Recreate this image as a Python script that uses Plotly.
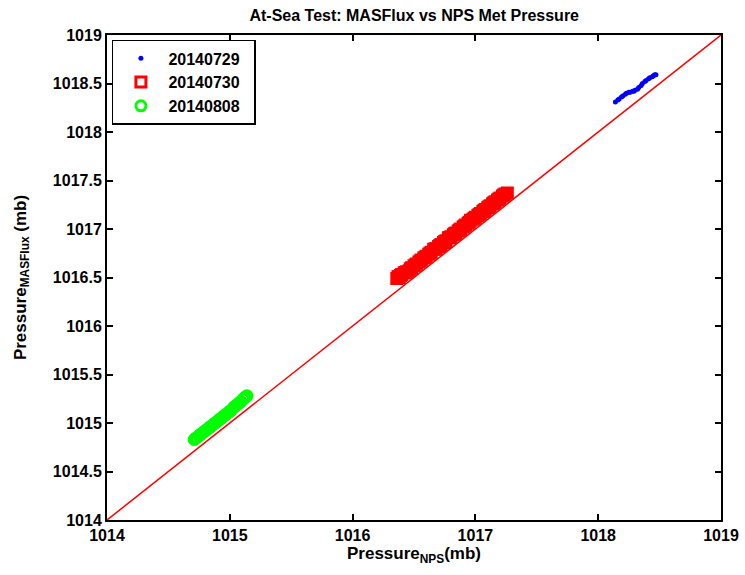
import plotly.graph_objects as go

# ---- data ----
blue_label = "20140729"
blue_x = [1018.14, 1018.16, 1018.17, 1018.19, 1018.20, 1018.22, 1018.23, 1018.25,
          1018.26, 1018.28, 1018.29, 1018.30, 1018.32, 1018.33, 1018.35, 1018.36,
          1018.38, 1018.39, 1018.41, 1018.42, 1018.44, 1018.45, 1018.46, 1018.47]
blue_y = [1018.31, 1018.33, 1018.34, 1018.36, 1018.37, 1018.39, 1018.40, 1018.41,
          1018.41, 1018.42, 1018.42, 1018.43, 1018.44, 1018.46, 1018.48, 1018.50,
          1018.52, 1018.53, 1018.55, 1018.56, 1018.57, 1018.58, 1018.59, 1018.59]

red_label = "20140730"
red_x = [1016.36, 1016.37, 1016.38, 1016.39, 1016.40, 1016.42, 1016.43, 1016.44, 1016.46, 1016.47,
         1016.48, 1016.50, 1016.51, 1016.52, 1016.54, 1016.55, 1016.56, 1016.58, 1016.59, 1016.60,
         1016.62, 1016.63, 1016.64, 1016.66, 1016.67, 1016.68, 1016.70, 1016.71, 1016.72, 1016.74,
         1016.75, 1016.76, 1016.78, 1016.79, 1016.80, 1016.82, 1016.83, 1016.84, 1016.86, 1016.87,
         1016.88, 1016.90, 1016.91, 1016.92, 1016.94, 1016.95, 1016.96, 1016.98, 1016.99, 1017.00,
         1017.02, 1017.03, 1017.04, 1017.06, 1017.07, 1017.08, 1017.10, 1017.11, 1017.12, 1017.14,
         1017.15, 1017.16, 1017.18, 1017.19, 1017.20, 1017.22, 1017.23, 1017.24, 1017.26]
red_y = [1016.49, 1016.51, 1016.50, 1016.52, 1016.53, 1016.55, 1016.55, 1016.56, 1016.57, 1016.59,
         1016.60, 1016.62, 1016.63, 1016.64, 1016.66, 1016.67, 1016.68, 1016.70, 1016.71, 1016.72,
         1016.74, 1016.75, 1016.76, 1016.79, 1016.79, 1016.80, 1016.82, 1016.83, 1016.84, 1016.86,
         1016.87, 1016.88, 1016.91, 1016.91, 1016.92, 1016.94, 1016.95, 1016.96, 1016.98, 1016.99,
         1017.00, 1017.02, 1017.03, 1017.04, 1017.06, 1017.07, 1017.09, 1017.10, 1017.11, 1017.12,
         1017.14, 1017.15, 1017.16, 1017.18, 1017.19, 1017.20, 1017.22, 1017.23, 1017.24, 1017.26,
         1017.27, 1017.28, 1017.30, 1017.31, 1017.32, 1017.34, 1017.35, 1017.36, 1017.37]

green_label = "20140808"
green_x = [1014.71, 1014.72, 1014.73, 1014.75, 1014.76, 1014.77, 1014.79, 1014.80, 1014.81, 1014.83,
           1014.84, 1014.85, 1014.87, 1014.88, 1014.89, 1014.91, 1014.92, 1014.93, 1014.95, 1014.96,
           1014.97, 1014.99, 1015.00, 1015.01, 1015.03, 1015.04, 1015.05, 1015.07, 1015.08, 1015.09,
           1015.11, 1015.12, 1015.13, 1015.14]
green_y = [1014.83, 1014.84, 1014.85, 1014.87, 1014.88, 1014.89, 1014.91, 1014.92, 1014.93, 1014.95,
           1014.96, 1014.97, 1014.99, 1015.00, 1015.01, 1015.03, 1015.04, 1015.05, 1015.07, 1015.08,
           1015.09, 1015.11, 1015.12, 1015.13, 1015.16, 1015.17, 1015.18, 1015.20, 1015.21, 1015.22,
           1015.25, 1015.26, 1015.27, 1015.28]

diag_x = [1014, 1019]
diag_y = [1014, 1019]

x_ticks = [1014, 1015, 1016, 1017, 1018, 1019]
x_tick_text = ["1014", "1015", "1016", "1017", "1018", "1019"]
y_ticks = [1014, 1014.5, 1015, 1015.5, 1016, 1016.5, 1017, 1017.5, 1018, 1018.5, 1019]
y_tick_text = ["1014", "1014.5", "1015", "1015.5", "1016", "1016.5", "1017", "1017.5",
               "1018", "1018.5", "1019"]

FONT = "Liberation Sans"

fig = go.Figure()
fig.add_trace(go.Scatter(x=blue_x, y=blue_y, mode="markers", name=blue_label + "  ",
                         marker=dict(symbol="circle", size=5, color="#0000ff")))
fig.add_trace(go.Scatter(x=red_x, y=red_y, mode="markers", name=red_label + "  ",
                         marker=dict(symbol="square-open", size=10, color="#ff0000",
                                     line=dict(width=3, color="#ff0000"))))
fig.add_trace(go.Scatter(x=green_x, y=green_y, mode="markers", name=green_label + "  ",
                         marker=dict(symbol="circle-open", size=10, color="#00ff00",
                                     line=dict(width=3, color="#00ff00"))))
fig.add_trace(go.Scatter(x=diag_x, y=diag_y, mode="lines", showlegend=False,
                         line=dict(color="#ff0000", width=1.5)))

axis_common = dict(showline=True, linewidth=2, linecolor="black", mirror="ticks",
                   ticks="inside", ticklen=6, tickwidth=1.5, tickcolor="black",
                   showgrid=False, zeroline=False, automargin=False,
                   tickfont=dict(family=FONT, size=16, color="black", weight="bold"))

fig.update_layout(
    width=745, height=575,
    margin=dict(l=107, r=24, t=35, b=55),
    paper_bgcolor="white", plot_bgcolor="white",
    title=dict(text="<b>At-Sea Test: MASFlux vs NPS Met Pressure</b>",
               x=0.556, xanchor="center", y=0.974, yanchor="middle",
               font=dict(family=FONT, size=16, color="black")),
    xaxis=dict(range=[1014, 1019], tickvals=x_ticks, ticktext=x_tick_text, **axis_common,
               title=dict(text="<b>Pressure<sub>NPS</sub>(mb)</b>", standoff=2,
                          font=dict(family=FONT, size=17, color="black"))),
    yaxis=dict(range=[1014, 1019], tickvals=y_ticks, ticktext=y_tick_text, **axis_common,
               title=dict(text="<b>Pressure<sub>MASFlux</sub> (mb)</b>", standoff=22,
                          font=dict(family=FONT, size=17, color="black"))),
    legend=dict(x=0.008, y=0.99, xanchor="left", yanchor="top",
                bgcolor="white", bordercolor="black", borderwidth=1.5,
                font=dict(family=FONT, size=16, color="black", weight="bold"),
                itemwidth=45),
    showlegend=True,
)

fig.write_html("out.html", config={"displayModeBar": False},
               post_script="document.body.style.margin='0';")
